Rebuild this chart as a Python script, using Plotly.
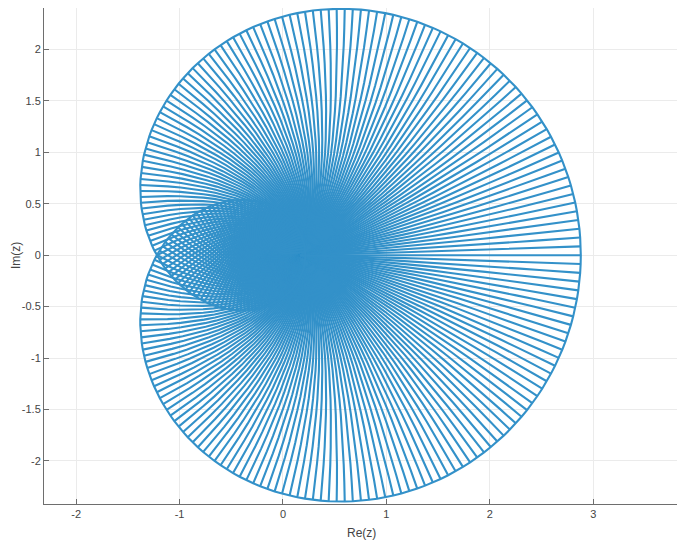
import numpy as np
import plotly.graph_objects as go

# ── Values ─────────────────────────────────────────────────────────────────
# The drawing is the image of the unit disc under w = d + a*z + b*z^2:
# the outline is the image of |z| = 1 (with its small inner loop at the
# notch), the spokes are images of the radii.
map_coeffs = [0.164, 1.332, 1.384]          # d, a, b
n_spokes = 300                              # radii drawn around the disc
spoke_radii = [0.0, 0.05, 0.1, 0.15, 0.2, 0.25, 0.3, 0.35, 0.4, 0.45, 0.5,
               0.55, 0.6, 0.65, 0.7, 0.75, 0.8, 0.85, 0.9, 0.95, 1.0]
x_ticks = [-2, -1, 0, 1, 2, 3]
y_ticks = [-2, -1.5, -1, -0.5, 0, 0.5, 1, 1.5, 2]

LINE = "#3391c9"
AXIS = "#6e6e6e"
TEXT = "#444444"
FONT = "Liberation Sans, Arial, sans-serif"


def w_of(z):
    d, a, b = map_coeffs
    return d + a * z + b * z ** 2


theta = 2 * np.pi * np.arange(n_spokes) / n_spokes

# spokes, one polyline each, separated by None
sx, sy = [], []
for t in theta:
    w = w_of(np.array(spoke_radii) * np.exp(1j * t))
    sx += list(w.real) + [None]
    sy += list(w.imag) + [None]

# outline (closed)
rim = w_of(np.exp(1j * np.append(theta, theta[0])))

fig = go.Figure()
fig.add_trace(go.Scatter(x=sx, y=sy, mode="lines",
                         line=dict(color=LINE, width=2.1), hoverinfo="skip"))
fig.add_trace(go.Scatter(x=rim.real, y=rim.imag, mode="lines",
                         line=dict(color=LINE, width=2.1), hoverinfo="skip"))

axis_common = dict(
    showline=True, linecolor=AXIS, linewidth=1,
    ticks="inside", ticklen=5, tickcolor=AXIS,
    showgrid=True, gridcolor="#ebebeb", gridwidth=1,
    zeroline=False, mirror=False, automargin=False,
    tickfont=dict(family=FONT, size=11, color=TEXT),
)
# the page adds an 8 px body margin, so the figure is sized/offset for it
fig.update_layout(
    width=677, height=536,
    margin=dict(l=36, r=7, t=0, b=40, autoexpand=False),
    paper_bgcolor="white", plot_bgcolor="white",
    showlegend=False,
    xaxis=dict(axis_common, range=[-2.311, 3.820],
               tickvals=x_ticks, ticktext=[f"{v:g}" for v in x_ticks]),
    yaxis=dict(axis_common, range=[-2.418, 2.402],
               tickvals=y_ticks, ticktext=[f"{v:g}" for v in y_ticks]),
    annotations=[
        dict(text="Re(z)", xref="paper", yref="paper", x=0.5, y=0,
             xanchor="center", yanchor="middle", yshift=-29, showarrow=False,
             font=dict(family=FONT, size=12, color=TEXT)),
        dict(text="Im(z)", xref="paper", yref="paper", x=0, y=0.5,
             xanchor="center", yanchor="middle", xshift=-28, textangle=-90,
             showarrow=False, font=dict(family=FONT, size=12, color=TEXT)),
    ],
)

fig.write_html("out.html")
